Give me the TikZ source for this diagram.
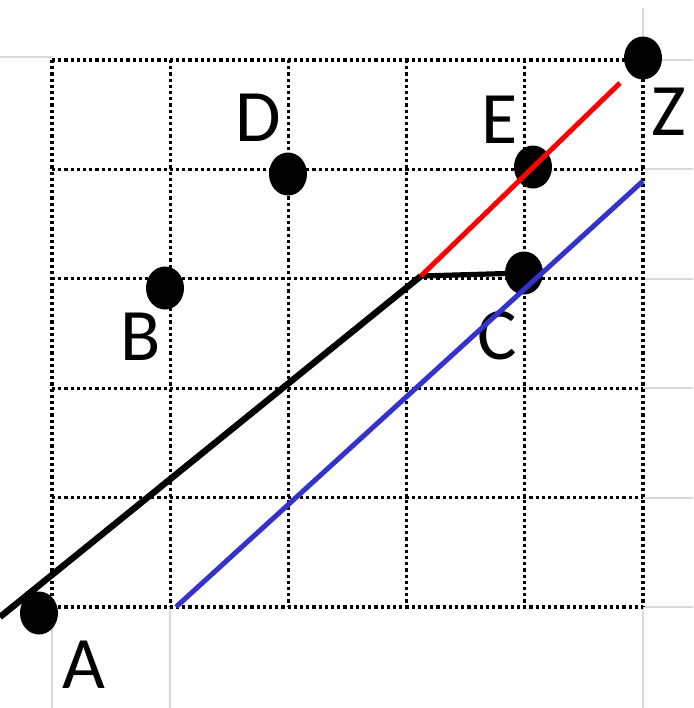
\documentclass[tikz,border=0pt]{standalone}
\usepackage{fontspec}
\setmainfont{Carlito}
\usetikzlibrary{shapes.geometric}
\definecolor{sheetgray}{HTML}{D9D9D9}
\definecolor{lineblue}{HTML}{3333CC}
\tikzset{
    gridline/.style={draw=black, line width=1.6pt, dash pattern=on 1.6pt off 1.5pt},
    sheetline/.style={draw=sheetgray, line width=1pt},
    dot/.style={ellipse, fill=black, inner sep=0pt, minimum width=19pt, minimum height=21.5pt},
    lbl/.style={font=\fontsize{37}{40}\selectfont, inner sep=0pt},
    thickline/.style={line width=3.2pt}
}

\begin{document}
\begin{tikzpicture}[x=0.5pt, y=-0.5pt]
    \useasboundingbox (0,0) rectangle (693,708);

    % spreadsheet cell borders
    \foreach \gy in {60,169.4,278.8,388.2,497.6,607}
      \draw[sheetline] (643,\gy) -- (693,\gy);
    \draw[sheetline] (0,57) -- (52,57);
    \draw[sheetline] (643,8) -- (643,60);
    \foreach \gx in {52,170.2,643}
      \draw[sheetline] (\gx,607) -- (\gx,708);

    % dotted grid
    \foreach \gx in {52,170.2,288.4,406.6,524.8,643}
      \draw[gridline] (\gx,60) -- (\gx,607);
    \foreach \gy in {60,169.4,278.8,388.2,497.6,607}
      \draw[gridline] (52,\gy) -- (643,\gy);

    % points
    \node[dot] (A) at (39,613) {};
    \node[dot] (B) at (165,288) {};
    \node[dot] (C) at (524,273) {};
    \node[dot] (D) at (288,174) {};
    \node[dot] (E) at (533,167) {};
    \node[dot] (Z) at (643,58) {};

    \node[lbl] (labA) at (84,665) {A};
    \node[lbl] (labB) at (141,337) {B};
    \node[lbl] (labC) at (497,336) {C};
    \node[lbl] (labD) at (258,118) {D};
    \node[lbl] (labE) at (500,120) {E};
    \node[lbl] (labZ) at (669,112) {Z};

    % lines
    \coordinate (start) at (0,617);
    \coordinate (kink) at (421,276);
    \coordinate (redend) at (620,83);
    \coordinate (bluestart) at (176,607);
    \coordinate (blueend) at (643,181);

    \draw[thickline, black] (start) -- (kink);
    \draw[line width=2.6pt, black] (kink) -- (C.center);
    \draw[line width=2.5pt, red] (kink) -- (redend);
    \draw[line width=2.5pt, lineblue] (bluestart) -- (blueend);
\end{tikzpicture}
\end{document}
